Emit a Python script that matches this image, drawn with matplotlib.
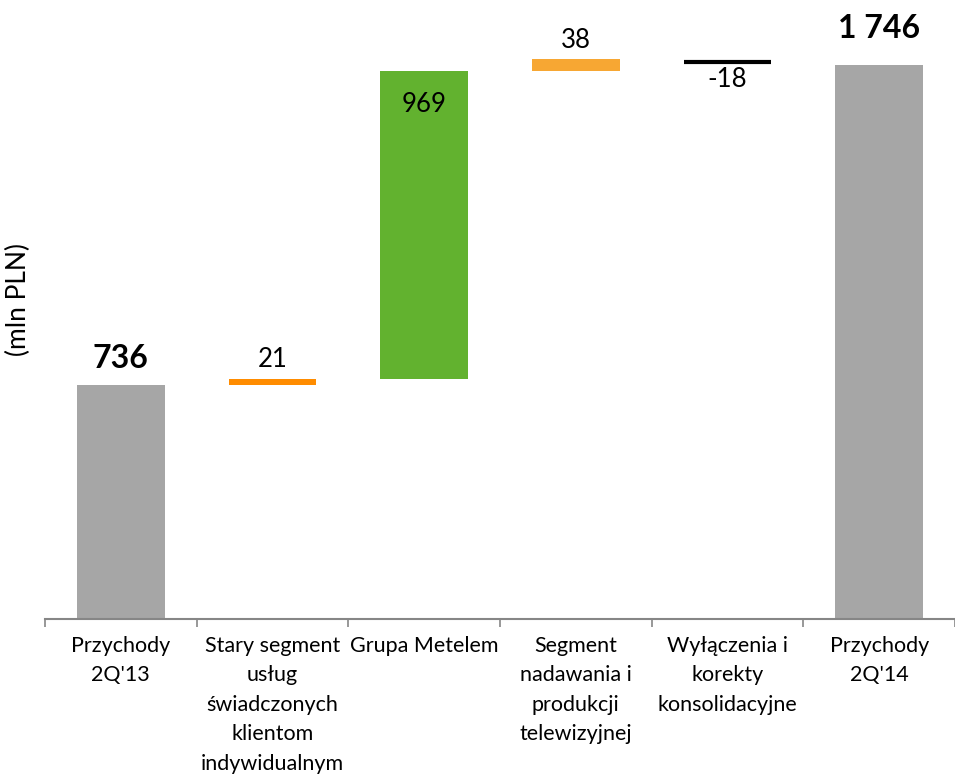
import matplotlib
matplotlib.use("Agg")
import matplotlib.pyplot as plt

# categories and values (mln PLN)
categories = ["Przychody\n2Q'13",
              "Stary segment\nusług\nświadczonych\nklientom\nindywidualnym",
              "Grupa Metelem",
              "Segment\nnadawania i\nprodukcji\ntelewizyjnej",
              "Wyłączenia i\nkorekty\nkonsolidacyjne",
              "Przychody\n2Q'14"]
start_value = 736
changes = [21, 969, 38, -18]
end_value = 1746
value_labels = ["736", "21", "969", "38", "-18", "1 746"]

gray = "#A6A6A6"
change_colors = ["#FF8C00", "#62B22F", "#F7A733", "#000000"]

plt.rcParams['font.family'] = ['Lato', 'DejaVu Sans']

fig = plt.figure(figsize=(9.55, 7.75), dpi=100)
ax = fig.add_axes([45/955, 156/775, 1 - 45/955, 619/775])

w = 0.58
x = list(range(len(categories)))

# first total bar
ax.bar(x[0], start_value, width=w, color=gray)
ax.text(x[0], start_value + 40, value_labels[0], ha="center", va="bottom",
        fontsize=23, fontweight="bold")

# change bars
running = start_value
for i, ch in enumerate(changes):
    xi = x[i + 1]
    if ch >= 0:
        ax.bar(xi, ch, bottom=running, width=w, color=change_colors[i])
        if ch > 200:
            ax.text(xi, running + ch - 105, value_labels[i + 1], ha="center",
                    va="center", fontsize=18.5)
        else:
            ax.text(xi, running + ch + 20, value_labels[i + 1], ha="center",
                    va="bottom", fontsize=18.5)
        running += ch
    else:
        top = running
        ax.hlines(top - 8, xi - w / 2, xi + w / 2, color=change_colors[i], lw=3)
        running += ch
        ax.text(xi, top - 25, value_labels[i + 1], ha="center", va="top",
                fontsize=18.5)

# final total bar
ax.bar(x[-1], end_value, width=w, color=gray)
ax.text(x[-1], end_value + 70, value_labels[-1], ha="center", va="bottom",
        fontsize=23, fontweight="bold")

ax.set_xlim(-0.5, len(categories) - 0.5)
ax.set_ylim(0, 1950)
ax.set_yticks([])
for s in ["top", "right", "left"]:
    ax.spines[s].set_visible(False)
ax.spines["bottom"].set_color("#868686")
ax.spines["bottom"].set_linewidth(1.5)

ax.set_xticks([i - 0.5 for i in range(len(categories) + 1)], minor=False)
ax.set_xticklabels([])
ax.tick_params(axis="x", which="major", length=6, color="#868686", width=1.2)
ax.set_xticks(x, minor=True)
ax.set_xticklabels(categories, minor=True, fontsize=15.5, linespacing=1.6)
ax.tick_params(axis="x", which="minor", length=0, pad=12)

fig.text(18/955, 1 - 300/775, "(mln PLN)", rotation=90, ha="center",
         va="center", fontsize=19)

fig.savefig("out.png", dpi=100)
